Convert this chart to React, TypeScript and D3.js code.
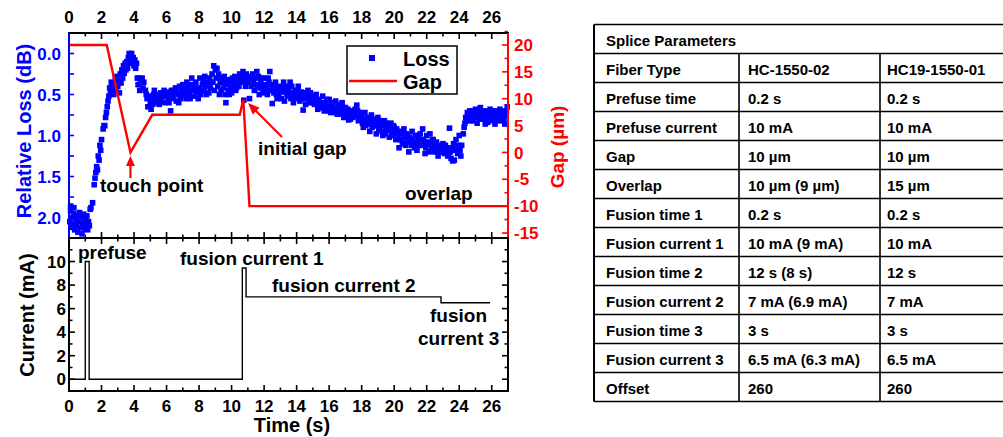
import React from 'react';
import * as d3 from 'd3';

const W = 1003;
const H = 437;
const FONT = '"Liberation Sans", Arial, Helvetica, sans-serif';

// relative loss (dB), [time s, loss dB]
const lossPoints: [number, number][] = [
  [0.05, 2.05], [0.1, 1.92], [0.1, 1.86], [0.15, 2.12], [0.2, 2.0], [0.25, 2.08], [0.3, 1.95], [0.3, 1.88],
  [0.35, 2.15], [0.4, 2.02], [0.45, 2.1], [0.5, 1.98], [0.55, 2.18], [0.6, 2.05], [0.65, 1.94], [0.7, 2.12],
  [0.75, 2.0], [0.8, 2.2], [0.85, 2.07], [0.9, 1.96], [0.95, 2.14], [1.0, 2.03], [1.05, 2.1], [1.1, 1.98],
  [1.15, 2.15], [1.2, 2.05], [1.25, 2.1], [1.3, 1.9],
  [1.35, 1.88], [1.45, 1.82], [1.55, 1.6], [1.6, 1.52], [1.65, 1.45], [1.7, 1.38], [1.75, 1.42], [1.8, 1.25],
  [1.85, 1.3], [1.9, 1.12], [1.95, 1.18], [2.0, 1.05], [2.1, 0.92], [2.15, 0.88], [2.2, 0.88], [2.25, 0.78],
  [2.3, 0.72], [2.35, 0.65], [2.4, 0.58], [2.45, 0.52], [2.5, 0.42], [2.55, 0.48], [2.6, 0.35], [2.65, 0.4],
  [2.7, 0.45], [2.75, 0.5], [2.8, 0.38], [2.85, 0.3], [2.9, 0.44], [2.95, 0.28], [3.0, 0.4], [3.05, 0.33],
  [3.1, 0.48], [3.15, 0.25], [3.2, 0.36], [3.25, 0.2], [3.3, 0.3], [3.35, 0.15], [3.4, 0.24], [3.45, 0.12],
  [3.5, 0.2], [3.55, 0.1], [3.6, 0.18], [3.65, 0.05], [3.7, 0.0], [3.75, 0.12], [3.8, 0.08], [3.85, 0.0],
  [3.9, 0.1], [3.95, 0.05], [4.0, 0.15], [4.05, 0.08], [4.1, 0.18], [4.15, 0.12],
  [4.2, 0.3], [4.25, 0.38], [4.3, 0.3], [4.35, 0.45], [4.4, 0.32], [4.5, 0.3], [4.55, 0.42], [4.6, 0.35],
  [4.7, 0.45], [4.75, 0.5], [4.8, 0.55], [4.85, 0.65], [4.9, 0.52], [5.0, 0.6], [5.05, 0.68], [5.1, 0.55],
  [5.15, 0.62], [5.2, 0.5], [5.3, 0.58], [5.35, 0.52], [5.4, 0.6], [5.5, 0.5],
  [5.6, 0.55], [5.65, 0.48], [5.7, 0.58], [5.8, 0.5], [5.85, 0.45], [5.9, 0.6], [6.0, 0.52], [6.05, 0.47],
  [6.1, 0.56], [6.2, 0.5], [6.25, 0.7], [6.3, 0.45], [6.4, 0.55], [6.5, 0.5], [6.55, 0.42], [6.6, 0.58],
  [6.7, 0.48], [6.8, 0.4], [6.85, 0.55], [6.9, 0.45], [7.0, 0.38], [7.05, 0.5], [7.1, 0.42], [7.2, 0.55],
  [7.25, 0.35], [7.3, 0.45], [7.4, 0.5], [7.5, 0.38], [7.55, 0.3], [7.6, 0.45], [7.7, 0.52], [7.75, 0.4],
  [7.8, 0.35], [7.9, 0.48], [8.0, 0.42], [8.05, 0.3], [8.1, 0.5], [8.2, 0.38], [8.3, 0.45], [8.35, 0.28],
  [8.4, 0.4], [8.5, 0.35], [8.6, 0.48], [8.65, 0.3], [8.7, 0.42], [8.8, 0.25], [8.85, 0.35], [8.9, 0.15],
  [9.0, 0.2], [9.05, 0.3], [9.1, 0.18], [9.15, 0.4], [9.2, 0.25], [9.3, 0.35], [9.35, 0.45], [9.4, 0.3],
  [9.5, 0.42], [9.6, 0.5], [9.65, 0.6], [9.7, 0.38], [9.8, 0.45], [9.9, 0.35], [10.0, 0.48], [10.05, 0.3],
  [10.1, 0.4], [10.2, 0.28], [10.3, 0.42], [10.35, 0.3], [10.4, 0.36], [10.5, 0.25], [10.55, 0.33], [10.6, 0.28],
  [10.7, 0.22], [10.75, 0.57], [10.8, 0.3], [10.9, 0.25], [11.0, 0.35], [11.05, 0.28], [11.1, 0.55],
  [11.15, 0.3], [11.2, 0.4], [11.3, 0.25], [11.35, 0.35], [11.4, 0.45], [11.5, 0.3], [11.6, 0.4], [11.65, 0.28],
  [11.7, 0.5], [11.8, 0.35], [11.9, 0.42], [12.0, 0.3], [12.05, 0.45], [12.1, 0.38], [12.2, 0.5], [12.3, 0.35],
  [12.35, 0.22], [12.4, 0.45], [12.5, 0.61], [12.55, 0.4], [12.6, 0.48], [12.7, 0.35], [12.8, 0.55], [12.85, 0.42],
  [12.9, 0.5], [13.0, 0.4], [13.1, 0.47], [13.2, 0.35], [13.25, 0.58], [13.3, 0.45], [13.4, 0.5], [13.5, 0.42],
  [13.6, 0.35], [13.65, 0.55], [13.7, 0.4], [13.75, 0.48], [13.8, 0.6], [13.9, 0.45], [14.0, 0.52], [14.1, 0.4],
  [14.2, 0.58], [14.3, 0.47], [14.4, 0.69], [14.5, 0.5], [14.6, 0.55], [14.7, 0.45], [14.8, 0.6], [14.9, 0.52],
  [15.0, 0.55], [15.1, 0.62], [15.2, 0.5], [15.3, 0.68], [15.4, 0.58], [15.5, 0.64], [15.6, 0.52], [15.7, 0.7],
  [15.8, 0.6], [15.9, 0.66], [16.0, 0.56], [16.1, 0.72], [16.2, 0.62], [16.3, 0.68], [16.4, 0.58], [16.5, 0.74],
  [16.6, 0.64], [16.7, 0.7], [16.8, 0.6], [16.9, 0.78], [17.0, 0.66], [17.1, 0.72], [17.2, 0.81], [17.3, 0.8],
  [17.4, 0.7], [17.5, 0.75], [17.6, 0.68], [17.7, 0.63], [17.8, 0.82], [17.9, 0.72],
  [18.0, 0.78], [18.1, 0.9], [18.2, 0.72], [18.3, 0.85], [18.4, 0.8], [18.5, 0.95], [18.6, 0.75], [18.7, 0.88],
  [18.8, 0.82], [18.9, 0.98], [19.0, 0.78], [19.1, 0.9], [19.2, 0.85], [19.3, 1.0], [19.4, 0.82], [19.5, 0.92],
  [19.6, 0.88], [19.7, 1.02], [19.8, 0.85], [19.9, 0.95],
  [20.0, 0.9], [20.1, 1.05], [20.2, 0.95], [20.3, 1.15], [20.4, 0.98], [20.5, 1.08], [20.6, 0.92], [20.7, 1.12],
  [20.8, 1.0], [20.9, 1.2], [21.0, 1.05], [21.1, 0.95], [21.2, 1.1], [21.3, 1.0], [21.4, 1.18], [21.5, 1.05],
  [21.6, 0.98], [21.7, 1.12], [21.8, 1.05], [21.9, 1.22], [22.0, 1.0], [22.1, 1.1], [22.2, 0.98], [22.3, 1.15],
  [22.4, 1.05], [22.5, 1.2], [22.6, 1.08], [22.7, 1.25], [22.8, 1.12], [22.9, 1.18], [23.0, 1.1], [23.1, 1.22],
  [23.2, 1.15], [23.3, 1.25], [23.4, 0.91], [23.45, 1.2], [23.5, 1.28], [23.6, 1.31], [23.65, 1.1], [23.7, 1.3],
  [23.75, 1.18], [23.8, 1.05], [23.9, 1.22], [24.0, 1.0], [24.1, 1.25], [24.15, 1.12],
  [24.25, 0.98], [24.3, 0.9], [24.35, 0.85], [24.4, 0.78], [24.45, 0.82], [24.5, 0.72],
  [24.6, 0.75], [24.7, 0.82], [24.8, 0.7], [24.9, 0.78], [25.0, 0.68], [25.1, 0.85], [25.2, 0.72], [25.3, 0.66],
  [25.4, 0.8], [25.5, 0.74], [25.6, 0.86], [25.7, 0.7], [25.8, 0.78], [25.9, 0.68], [26.0, 0.82], [26.1, 0.72],
  [26.2, 0.86], [26.3, 0.7], [26.4, 0.76], [26.5, 0.68], [26.6, 0.82], [26.7, 0.74], [26.8, 0.86], [26.9, 0.7],
  [26.95, 0.65],
];

// second pass of readings where the scatter is dense
const lossPointsDense: [number, number][] = [
  [5.25, 0.45], [5.45, 0.55], [5.55, 0.62], [5.75, 0.52], [5.95, 0.5], [6.15, 0.6], [6.35, 0.52], [6.45, 0.45],
  [6.65, 0.5], [6.75, 0.6], [6.95, 0.52], [7.15, 0.48], [7.35, 0.4], [7.45, 0.55], [7.65, 0.38], [7.85, 0.45],
  [7.95, 0.55], [8.15, 0.45], [8.25, 0.32], [8.45, 0.5], [8.55, 0.4], [8.75, 0.35], [8.95, 0.45], [9.25, 0.5],
  [9.45, 0.35], [9.55, 0.28], [9.75, 0.32], [9.85, 0.5], [9.95, 0.42], [10.15, 0.35], [10.25, 0.45], [10.45, 0.4],
  [10.65, 0.35], [10.85, 0.4], [10.95, 0.32],
  [11.25, 0.32], [11.45, 0.38], [11.55, 0.22], [11.75, 0.42], [11.85, 0.3], [11.95, 0.48], [12.15, 0.42], [12.25, 0.3],
  [12.45, 0.38], [12.65, 0.42], [12.75, 0.5], [12.95, 0.45], [13.05, 0.55], [13.15, 0.42], [13.35, 0.4], [13.45, 0.52],
  [13.55, 0.48], [13.85, 0.5], [13.95, 0.55], [14.05, 0.45], [14.15, 0.5], [14.25, 0.52], [14.35, 0.55], [14.45, 0.48],
  [14.55, 0.62], [14.65, 0.5], [14.75, 0.55], [14.85, 0.48], [14.95, 0.58],
  [15.05, 0.6], [15.15, 0.55], [15.25, 0.62], [15.35, 0.56], [15.45, 0.6], [15.55, 0.66], [15.65, 0.6], [15.75, 0.64],
  [15.85, 0.56], [15.95, 0.7], [16.05, 0.64], [16.15, 0.6], [16.25, 0.66], [16.35, 0.72], [16.45, 0.66], [16.55, 0.62],
  [16.65, 0.68], [16.75, 0.74], [16.85, 0.7], [16.95, 0.66], [17.05, 0.76], [17.15, 0.68], [17.25, 0.74], [17.35, 0.7],
  [17.45, 0.78], [17.55, 0.72], [17.65, 0.76], [17.75, 0.7], [17.85, 0.75], [17.95, 0.8],
  [18.05, 0.85], [18.15, 0.8], [18.25, 0.88], [18.35, 0.78], [18.45, 0.86], [18.55, 0.82], [18.65, 0.9], [18.75, 0.8],
  [18.85, 0.88], [18.95, 0.84], [19.05, 0.92], [19.15, 0.82], [19.25, 0.95], [19.35, 0.88], [19.45, 0.98], [19.55, 0.85],
  [19.65, 0.94], [19.75, 0.9], [19.85, 1.0], [19.95, 0.88],
  [20.05, 0.98], [20.15, 0.92], [20.25, 1.02], [20.35, 1.05], [20.45, 0.95], [20.55, 1.1], [20.65, 1.02], [20.75, 0.98],
  [20.85, 1.08], [20.95, 1.02], [21.05, 1.12], [21.15, 1.05], [21.25, 1.15], [21.35, 1.08], [21.45, 1.0], [21.55, 1.12],
  [21.65, 1.05], [21.75, 0.92], [21.85, 1.1], [21.95, 1.15], [22.05, 1.08], [22.15, 1.2], [22.25, 1.1], [22.35, 1.05],
  [22.45, 1.12], [22.55, 1.15], [22.65, 1.12], [22.75, 1.18], [22.85, 1.2], [22.95, 1.15], [23.05, 1.2], [23.15, 1.12],
  [23.25, 1.18], [23.35, 1.22], [23.55, 1.15], [23.85, 1.15], [23.95, 1.12], [24.05, 1.18],
  [24.65, 0.7], [24.75, 0.75], [24.85, 0.82], [24.95, 0.72], [25.05, 0.78], [25.15, 0.7], [25.25, 0.8], [25.35, 0.74],
  [25.45, 0.7], [25.55, 0.8], [25.65, 0.76], [25.75, 0.84], [25.85, 0.74], [25.95, 0.78], [26.05, 0.7], [26.15, 0.8],
  [26.25, 0.75], [26.35, 0.82], [26.45, 0.72], [26.55, 0.78], [26.65, 0.7], [26.75, 0.8], [26.85, 0.76],
];

// fiber gap (um) vs time
const gapTime = [0, 2.32, 3.78, 5.12, 10.5, 10.72, 11.1, 27];
const gapValue = [20, 20, 0, 7, 7, 9.8, -10, -10];

// arc current (mA) vs time
const currentTime = [0, 1.0, 1.0, 1.24, 1.24, 10.66, 10.66, 10.89, 10.89, 22.88, 22.88, 25.9];
const currentValue = [0, 0, 10, 10, 0, 0, 9.45, 9.45, 7, 7, 6.5, 6.5];

const timeTicks = d3.range(0, 27, 2);
const lossTicks = [0, 0.5, 1, 1.5, 2];
const gapTicks = [20, 15, 10, 5, 0, -5, -10, -15];
const currentTicks = [0, 2, 4, 6, 8, 10];

const tableTitle = 'Splice Parameters';
const paramNames = [
  'Fiber Type', 'Prefuse time', 'Prefuse current', 'Gap', 'Overlap', 'Fusion time 1',
  'Fusion current 1', 'Fusion time 2', 'Fusion current 2', 'Fusion time 3', 'Fusion current 3', 'Offset',
];
const hc155002 = [
  'HC-1550-02', '0.2 s', '10 mA', '10 µm', '10 µm (9 µm)', '0.2 s',
  '10 mA (9 mA)', '12 s (8 s)', '7 mA (6.9 mA)', '3 s', '6.5 mA (6.3 mA)', '260',
];
const hc19155001 = [
  'HC19-1550-01', '0.2 s', '10 mA', '10 µm', '15 µm', '0.2 s',
  '10 mA', '12 s', '7 mA', '3 s', '6.5 mA', '260',
];

const BLUE = '#0000ff';
const RED = '#ff0000';

export default function App() {
  const x = d3.scaleLinear().domain([0, 27]).range([69, 508]);
  const yLoss = d3.scaleLinear().domain([-0.25, 2.25]).range([33, 238]);
  const yGap = d3.scaleLinear().domain([-15.93, 22.23]).range([238, 33]);
  const yCur = d3.scaleLinear().domain([-1, 12]).range([391, 238]);

  const gapPath = d3.line<number>().x((_, i) => x(gapTime[i])).y(d => yGap(d))(gapValue) || '';
  const curPath = d3.line<number>().x((_, i) => x(currentTime[i])).y(d => yCur(d))(currentValue) || '';

  const xMinor = d3.range(0, 28, 1);
  const lossMinor = d3.range(-0.25, 2.26, 0.25);
  const gapMinor = d3.range(-15, 22.6, 2.5);
  const curMinor = d3.range(-1, 12.1, 1);

  const allLoss = lossPoints.concat(lossPointsDense);

  const txt = { fontFamily: FONT, fontWeight: 700 } as const;

  // table geometry
  const tLeft = 594, tTop = 24.5, rowH = 29, c1 = 739, c2 = 880, tRight = 1010;
  const nRows = paramNames.length + 1;

  return (
    <svg width={W} height={H} style={{ position: 'absolute', left: 0, top: 0, background: '#fff' }}>
      {/* ticks on top axis, shared middle axis and bottom axis */}
      {xMinor.map(t => {
        const major = t % 2 === 0;
        const len = major ? 6 : 3.5;
        return (
          <g key={'xt' + t} stroke="#000" strokeWidth={1.6}>
            <line x1={x(t)} x2={x(t)} y1={33} y2={33 + len} />
            <line x1={x(t)} x2={x(t)} y1={238 - len} y2={238 + len} />
            <line x1={x(t)} x2={x(t)} y1={391} y2={391 - len} />
          </g>
        );
      })}
      {/* left loss ticks */}
      {lossMinor.map(v => (
        <line key={'lt' + v} x1={69} x2={74} y1={yLoss(v)} y2={yLoss(v)} stroke={BLUE} strokeWidth={1.6} />
      ))}
      {/* right gap ticks */}
      {gapMinor.map(v => (
        <line key={'gt' + v} x1={508} x2={Math.abs(v % 5) < 1e-6 ? 502 : 504.5} y1={yGap(v)} y2={yGap(v)} stroke={RED} strokeWidth={1.6} />
      ))}
      {/* current ticks, both sides */}
      {curMinor.map(v => {
        const len = Math.abs(v % 2) < 1e-6 ? 6 : 3.5;
        return (
          <g key={'ct' + v} stroke="#000" strokeWidth={1.6}>
            <line x1={69} x2={69 + len} y1={yCur(v)} y2={yCur(v)} />
            <line x1={508} x2={508 - len} y1={yCur(v)} y2={yCur(v)} />
          </g>
        );
      })}

      {/* loss scatter */}
      {allLoss.map(([t, v], i) => (
        <rect key={'p' + i} x={x(t) - 2.8} y={yLoss(v) - 2.8} width={5.6} height={5.6} fill={BLUE} />
      ))}

      {/* gap line */}
      <path d={gapPath} fill="none" stroke={RED} strokeWidth={2.4} strokeLinejoin="miter" />
      {/* current line */}
      <path d={curPath} fill="none" stroke="#000" strokeWidth={1.4} />

      {/* frames */}
      <line x1={68} x2={509} y1={33} y2={33} stroke="#000" strokeWidth={2} />
      <line x1={69} x2={69} y1={33} y2={238} stroke={BLUE} strokeWidth={2} />
      <line x1={508} x2={508} y1={33} y2={238} stroke={RED} strokeWidth={2} />
      <line x1={68} x2={509} y1={238} y2={238} stroke="#000" strokeWidth={2} />
      <line x1={69} x2={69} y1={238} y2={391} stroke="#000" strokeWidth={2} />
      <line x1={508} x2={508} y1={238} y2={391} stroke="#000" strokeWidth={2} />
      <line x1={68} x2={509} y1={391} y2={391} stroke="#000" strokeWidth={2} />

      {/* top axis labels */}
      {timeTicks.map(t => (
        <text key={'tl' + t} x={x(t)} y={23} textAnchor="middle" fontSize={17} {...txt}>{t}</text>
      ))}
      {/* bottom axis labels */}
      {timeTicks.map(t => (
        <text key={'bl' + t} x={x(t)} y={412} textAnchor="middle" fontSize={17} {...txt}>{t}</text>
      ))}
      <text x={292} y={432} textAnchor="middle" fontSize={20} {...txt}>Time (s)</text>

      {/* loss axis labels */}
      {lossTicks.map(v => (
        <text key={'ll' + v} x={61} y={yLoss(v)} dy="0.36em" textAnchor="end" fontSize={17} fill={BLUE} {...txt}>{d3.format('.1f')(v)}</text>
      ))}
      <text transform={`translate(31,131) rotate(-90)`} textAnchor="middle" fontSize={20} fill={BLUE} {...txt}>Relative Loss (dB)</text>

      {/* gap axis labels */}
      {gapTicks.map(v => (
        <text key={'gl' + v} x={514} y={yGap(v)} dy="0.36em" textAnchor="start" fontSize={17} fill={RED} {...txt}>{v}</text>
      ))}
      <text transform={`translate(564,147) rotate(-90)`} textAnchor="middle" fontSize={19} fill={RED} {...txt}>Gap (µm)</text>

      {/* current axis labels */}
      {currentTicks.map(v => (
        <text key={'cl' + v} x={66} y={yCur(v)} dy="0.36em" textAnchor="end" fontSize={17} {...txt}>{v}</text>
      ))}
      <text transform={`translate(34,315) rotate(-90)`} textAnchor="middle" fontSize={20} {...txt}>Current (mA)</text>

      {/* legend */}
      <rect x={347} y={46} width={110} height={48} fill="#fff" stroke="#000" strokeWidth={1.5} />
      <rect x={369} y={55} width={6} height={6} fill={BLUE} />
      <text x={403} y={66} fontSize={20} {...txt}>Loss</text>
      <line x1={349} x2={397} y1={81} y2={81} stroke={RED} strokeWidth={2.4} />
      <text x={403} y={89} fontSize={20} {...txt}>Gap</text>

      {/* annotations */}
      <text x={100} y={192} fontSize={19} {...txt}>touch point</text>
      <line x1={x(3.78)} x2={x(3.78)} y1={178} y2={164} stroke={RED} strokeWidth={2.2} />
      <polygon points={`${x(3.78)},156 ${x(3.78) - 4.5},166 ${x(3.78) + 4.5},166`} fill={RED} />
      <text x={258} y={155} fontSize={19} {...txt}>initial gap</text>
      <line x1={282} y1={137} x2={254} y2={109} stroke={RED} strokeWidth={2.2} />
      <polygon points={`248,103 259.5,107.8 252.8,114.5`} fill={RED} />
      <text x={405} y={200} fontSize={19} {...txt}>overlap</text>

      <text x={78} y={259} fontSize={19} {...txt}>prefuse</text>
      <text x={180} y={265} fontSize={19} {...txt}>fusion current 1</text>
      <text x={272} y={292} fontSize={19} {...txt}>fusion current 2</text>
      <text x={430} y={322} fontSize={19} {...txt}>fusion</text>
      <text x={418} y={345} fontSize={19} {...txt}>current 3</text>

      {/* splice parameter table */}
      <g>
        {d3.range(nRows + 1).map(i => (
          <line key={'hr' + i} x1={tLeft} x2={tRight} y1={tTop + i * rowH} y2={tTop + i * rowH} stroke="#000" strokeWidth={1.6} />
        ))}
        <line x1={tLeft} x2={tLeft} y1={tTop} y2={tTop + nRows * rowH} stroke="#000" strokeWidth={2} />
        <line x1={c1} x2={c1} y1={tTop + rowH} y2={tTop + nRows * rowH} stroke="#000" strokeWidth={1.6} />
        <line x1={c2} x2={c2} y1={tTop + rowH} y2={tTop + nRows * rowH} stroke="#000" strokeWidth={1.6} />
        <text x={606} y={tTop + 21.5} fontSize={15} {...txt}>{tableTitle}</text>
        {paramNames.map((name, i) => {
          const yb = tTop + (i + 1) * rowH + 21.5;
          return (
            <g key={'row' + i}>
              <text x={606} y={yb} fontSize={15} {...txt}>{name}</text>
              <text x={748} y={yb} fontSize={15} {...txt}>{hc155002[i]}</text>
              <text x={887} y={yb} fontSize={15} {...txt}>{hc19155001[i]}</text>
            </g>
          );
        })}
      </g>
    </svg>
  );
}
